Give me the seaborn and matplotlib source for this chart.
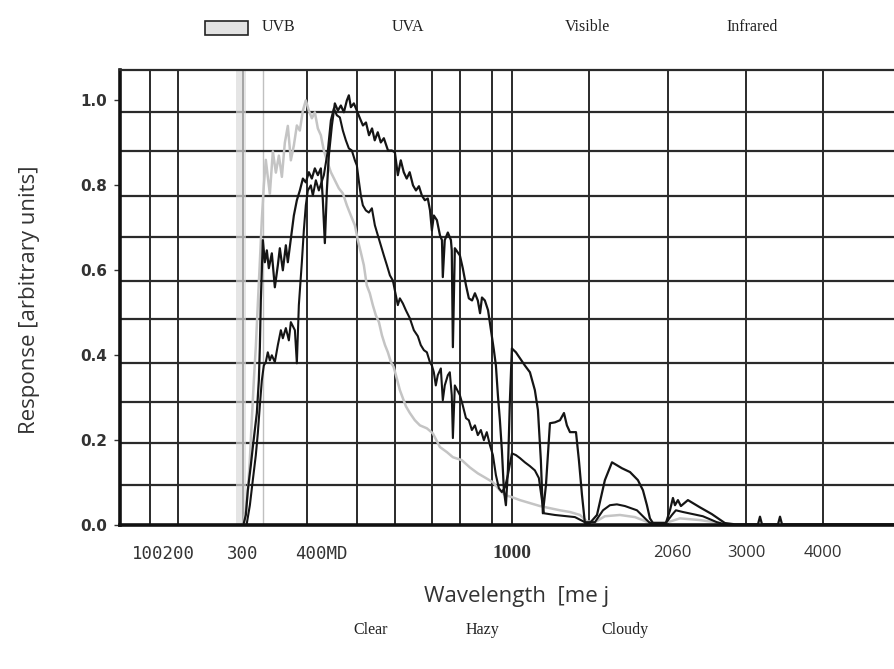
import numpy as np
import pandas as pd
import seaborn as sns
from matplotlib import pyplot as plt
from matplotlib.patches import Rectangle

# the wavelength axis of the original drawing is not linear:
# knots give wavelength (nm) -> position along the axis
WL_KNOTS = [0, 100, 200, 300, 400, 500, 600, 700, 800, 900, 1000, 1500, 2000, 3000, 4000, 5000]
POS_KNOTS = [0, 30, 58, 123, 187, 237, 275, 312, 340, 372, 392, 469, 548, 626, 703, 774]

clear_wl = [301.6, 304.7, 307.8, 312.5, 315.6, 318.8, 321.9, 325, 326.6, 328.1,
            329.7, 331.3, 334.4, 337.5, 340.6, 345.3, 350, 354.7, 357.8, 362.5,
            367.2, 370.3, 375, 379.7, 384.4, 389.1, 393.8, 398.4, 404, 410,
            416, 422, 428, 432, 436, 440, 444, 450, 456, 462,
            468, 474, 480, 484, 488, 494, 500, 508, 516, 524,
            532, 540, 547, 555, 563, 571, 582, 592, 600, 608,
            616, 624, 632, 640, 649, 657, 665, 673, 681, 689,
            695, 700, 707, 718, 729, 736, 739, 746, 757, 768,
            771, 775, 782, 800, 809, 819, 828, 838, 847, 856,
            863, 869, 878, 888, 897, 910, 920, 930, 940, 950,
            960, 970, 980, 990, 1000, 1026, 1052, 1084, 1117, 1149,
            1169, 1188, 1201, 1221, 1247, 1279, 1312, 1338, 1357, 1377,
            1416, 1435, 1455, 1474, 1506, 1551, 1601, 1646, 1677, 1709,
            1760, 1810, 1842, 1867, 1886, 1905, 1987, 2026, 2064, 2090,
            2128, 2166, 2256, 2410, 2563, 2730, 2858, 3156, 3182, 3208,
            3416, 3442, 3468, 5000]
clear_resp = [0.005, 0.024, 0.082, 0.141, 0.184, 0.224, 0.264, 0.341, 0.419, 0.529,
              0.60, 0.671, 0.619, 0.647, 0.605, 0.64, 0.56, 0.612, 0.652, 0.60,
              0.659, 0.619, 0.675, 0.729, 0.765, 0.788, 0.816, 0.807, 0.831, 0.816,
              0.84, 0.824, 0.84, 0.765, 0.664, 0.788, 0.871, 0.941, 0.993, 0.976,
              0.988, 0.972, 1.0, 1.012, 0.984, 0.993, 0.976, 0.958, 0.941, 0.948,
              0.918, 0.934, 0.906, 0.925, 0.901, 0.911, 0.882, 0.882, 0.878, 0.824,
              0.859, 0.831, 0.816, 0.831, 0.80, 0.788, 0.798, 0.776, 0.765, 0.769,
              0.741, 0.694, 0.729, 0.718, 0.682, 0.671, 0.584, 0.671, 0.689, 0.671,
              0.647, 0.419, 0.652, 0.635, 0.605, 0.565, 0.534, 0.529, 0.546, 0.529,
              0.499, 0.536, 0.529, 0.506, 0.459, 0.412, 0.376, 0.306, 0.247, 0.176,
              0.082, 0.047, 0.129, 0.294, 0.416, 0.407, 0.393, 0.376, 0.36, 0.318,
              0.271, 0.153, 0.028, 0.094, 0.24, 0.242, 0.247, 0.264, 0.235, 0.219,
              0.219, 0.153, 0.071, 0.005, 0.005, 0.024, 0.106, 0.148, 0.141, 0.134,
              0.125, 0.106, 0.082, 0.047, 0.016, 0.005, 0.005, 0.035, 0.064, 0.047,
              0.059, 0.045, 0.059, 0.042, 0.026, 0.005, 0.002, 0.002, 0.02, 0.002,
              0.002, 0.02, 0.002, 0.002]

hazy_wl = [306, 311, 315.6, 320.3, 323.4, 326.6, 329.7, 332.8, 335.9, 339,
           342.2, 345.3, 350, 354.7, 359.4, 362.5, 367.2, 371.9, 375, 381.3,
           384.4, 387.5, 392.2, 395.3, 398.4, 402, 408, 412, 418, 424,
           434, 442, 448, 454, 460, 466, 472, 478, 484, 490,
           496, 500, 505, 510.5, 515.8, 523.7, 531.6, 539.5, 547.4, 555.3,
           563, 571, 579, 587, 594.7, 602.7, 608, 613.5, 621.6, 629.7,
           640.5, 651.3, 662, 670, 678.4, 686.5, 694.6, 700, 707, 714,
           721, 732, 739, 746, 757, 764, 771, 775, 782, 800,
           809, 819, 828, 837.5, 847, 856, 865.6, 875, 884, 894,
           905, 920, 935, 950, 965, 980, 1000, 1026, 1052, 1084,
           1117, 1149, 1175, 1195, 1208, 1279, 1409, 1474, 1538, 1589,
           1633, 1677, 1728, 1804, 1855, 1886, 1987, 2051, 2102, 2192,
           2320, 2448, 2627, 2730]
hazy_resp = [0.002, 0.047, 0.106, 0.165, 0.216, 0.282, 0.341, 0.376, 0.384, 0.407,
             0.388, 0.40, 0.384, 0.424, 0.459, 0.44, 0.464, 0.435, 0.478, 0.459,
             0.381, 0.518, 0.619, 0.694, 0.753, 0.788, 0.80, 0.776, 0.812, 0.788,
             0.824, 0.882, 0.953, 0.981, 0.965, 0.96, 0.929, 0.906, 0.887, 0.882,
             0.859, 0.847, 0.812, 0.776, 0.753, 0.741, 0.736, 0.746, 0.706, 0.682,
             0.659, 0.635, 0.612, 0.588, 0.576, 0.541, 0.518, 0.534, 0.522, 0.506,
             0.487, 0.459, 0.445, 0.424, 0.412, 0.407, 0.384, 0.376, 0.36, 0.329,
             0.353, 0.369, 0.294, 0.329, 0.353, 0.36, 0.306, 0.205, 0.329, 0.306,
             0.282, 0.252, 0.247, 0.224, 0.235, 0.212, 0.224, 0.20, 0.219, 0.188,
             0.165, 0.118, 0.087, 0.078, 0.089, 0.118, 0.169, 0.165, 0.158, 0.148,
             0.139, 0.129, 0.111, 0.059, 0.028, 0.024, 0.019, 0.007, 0.007, 0.035,
             0.047, 0.049, 0.045, 0.035, 0.016, 0.005, 0.005, 0.024, 0.035, 0.031,
             0.026, 0.021, 0.007, 0.002]

cloudy_wl = [300, 304.7, 307.8, 310.9, 314, 317.2, 320.3, 323.4, 326.6, 329.7,
             332.8, 335.9, 339, 342.2, 346.9, 351.6, 356.3, 361, 365.6, 370.3,
             375, 379.7, 384.4, 389, 393.8, 398.4, 404, 410, 416, 422,
             428, 434, 440, 448, 456, 464, 472, 480, 488, 496,
             502.6, 510.5, 518.4, 526, 534, 542, 550, 558, 566, 574,
             581.6, 589.5, 597, 605, 613.5, 621.6, 629.7, 640.5, 654, 667.6,
             686.5, 703.6, 728.6, 753.6, 775, 806, 831, 856, 881, 905,
             940, 965, 1000, 1052, 1117, 1182, 1247, 1312, 1377, 1442,
             1487, 1538, 1601, 1696, 1791, 1874, 2000, 2154, 2410, 2666]
cloudy_resp = [0.002, 0.035, 0.082, 0.153, 0.247, 0.341, 0.42, 0.52, 0.62, 0.72,
               0.80, 0.86, 0.82, 0.78, 0.88, 0.83, 0.87, 0.82, 0.90, 0.94,
               0.859, 0.894, 0.941, 0.929, 0.976, 1.0, 0.976, 0.958, 0.972, 0.934,
               0.918, 0.882, 0.859, 0.831, 0.812, 0.793, 0.781, 0.753, 0.729, 0.706,
               0.671, 0.642, 0.612, 0.565, 0.546, 0.518, 0.494, 0.478, 0.447, 0.424,
               0.407, 0.384, 0.372, 0.346, 0.318, 0.299, 0.28, 0.264, 0.247, 0.235,
               0.228, 0.216, 0.184, 0.172, 0.16, 0.153, 0.136, 0.122, 0.111, 0.101,
               0.082, 0.071, 0.066, 0.059, 0.052, 0.045, 0.04, 0.035, 0.031, 0.024,
               0.009, 0.007, 0.021, 0.024, 0.019, 0.007, 0.007, 0.016, 0.012, 0.005]

# grid of the original chart paper
grid_wl = [100, 200, 300, 400, 500, 600, 700, 800, 900, 1000, 1500, 2000, 3000, 4000]
faint_grid_wl = [331]
grid_resp = [0.094, 0.193, 0.290, 0.382, 0.485, 0.576, 0.678, 0.776, 0.881, 0.972]
uvb_band = (290, 305)

xtick_pos = [150, 300, 430, 1000, 2060, 3000, 4000]
xtick_labels = ["100200", "300", "400MD", "1000", "2060", "3000", "4000"]
xtick_fonts = ["DejaVu Sans Mono", "DejaVu Sans Mono", "DejaVu Sans Mono",
               "Liberation Serif", "Open Sans", "Open Sans", "Open Sans"]
xtick_sizes = [12.5, 12.5, 12.5, 14, 12, 12, 12]
ytick_pos = [0.0, 0.2, 0.4, 0.6, 0.8, 1.0]

top_labels = ["UVB", "UVA", "Visible", "Infrared"]
bottom_labels = ["Clear", "Hazy", "Cloudy"]

df = pd.concat([
    pd.DataFrame({"wavelength": clear_wl, "response": clear_resp, "sky": "Clear"}),
    pd.DataFrame({"wavelength": hazy_wl, "response": hazy_resp, "sky": "Hazy"}),
    pd.DataFrame({"wavelength": cloudy_wl, "response": cloudy_resp, "sky": "Cloudy"}),
])

sns.set_style("white")
plt.rcParams["font.family"] = ["DejaVu Sans"]

fig = plt.figure(figsize=(8.94, 6.69), dpi=100)
ax = fig.add_axes([0.134, 0.215, 0.866, 0.68])

def fwd(w):
    return np.interp(w, WL_KNOTS, POS_KNOTS)

def inv(p):
    return np.interp(p, POS_KNOTS, WL_KNOTS)

ax.set_xscale("function", functions=(fwd, inv))

for x in grid_wl:
    ax.axvline(x, color="#2a2a2a", lw=1.4, zorder=0.5)
for x in faint_grid_wl:
    ax.axvline(x, color="#c0c0c0", lw=1.0, zorder=0.5)
for y in grid_resp:
    ax.axhline(y, color="#2a2a2a", lw=1.6, zorder=0.5)
ax.axvspan(*uvb_band, color="#dadada", alpha=0.7, lw=0, zorder=0.6)

styles = {"Cloudy": ("#c4c4c4", 1.8), "Hazy": ("#151515", 1.5), "Clear": ("#151515", 1.6)}
for sky in ["Cloudy", "Hazy", "Clear"]:
    color, lw = styles[sky]
    sns.lineplot(data=df[df["sky"] == sky], x="wavelength", y="response",
                 color=color, lw=lw, estimator=None, sort=False, ax=ax, zorder=2)

ax.set_xlim(0, 5000)
ax.set_ylim(0, 1.071)
ax.set_xlabel("")
ax.set_ylabel("")

ax.set_xticks(xtick_pos)
ax.set_xticklabels(xtick_labels)
for lab, fam, size in zip(ax.get_xticklabels(), xtick_fonts, xtick_sizes):
    lab.set_family(fam)
    lab.set_fontsize(size)
    lab.set_color("#333333")
ax.get_xticklabels()[3].set_fontweight("bold")
ax.set_yticks(ytick_pos)
ax.set_yticklabels([f"{v:.1f}" for v in ytick_pos], fontsize=11, fontweight="bold", color="#333333")
ax.tick_params(axis="x", length=3, pad=11, color="#555555")
ax.tick_params(axis="y", length=4, width=1, pad=5, left=True, color="#333333")

for side in ["left", "bottom"]:
    ax.spines[side].set_linewidth(2.6)
    ax.spines[side].set_color("#111111")
ax.spines["top"].set_linewidth(1.6)
ax.spines["top"].set_color("#2a2a2a")
ax.spines["right"].set_visible(False)

fig.text(0.033, 0.552, "Response [arbitrary units]", rotation=90, ha="center", va="center",
         fontsize=16, color="#333333", family=["Open Sans", "DejaVu Sans"])
fig.text(0.578, 0.108, "Wavelength  [me j", ha="center", va="center",
         fontsize=16, color="#333333", family=["Open Sans", "DejaVu Sans"])

# band legend along the top
fig.add_artist(Rectangle((0.229, 0.948), 0.048, 0.021, transform=fig.transFigure,
                         facecolor="#e2e2e2", edgecolor="#222222", lw=1.2))
for x, txt in zip([0.293, 0.438, 0.632, 0.813], top_labels):
    fig.text(x, 0.960, txt, ha="left", va="center", fontsize=11.5,
             family="Liberation Serif", color="#222222")

for x, txt in zip([0.415, 0.540, 0.699], bottom_labels):
    fig.text(x, 0.058, txt, ha="center", va="center", fontsize=11.5,
             family="Liberation Serif", color="#222222")

fig.savefig("out.png", dpi=100)
